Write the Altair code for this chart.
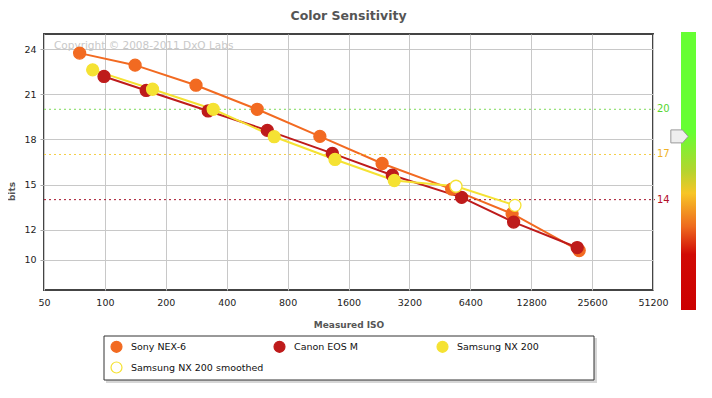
import altair as alt
import pandas as pd

# ---------------- data ----------------
sony_iso = [75, 141, 282, 566, 1155, 2345, 5177, 10300, 22100]
sony_bits = [23.73, 22.93, 21.6, 20.0, 18.2, 16.4, 14.7, 13.07, 10.62]

canon_iso = [99, 160, 324, 635, 1331, 2635, 5800, 10480, 21600]
canon_bits = [22.18, 21.25, 19.89, 18.6, 17.07, 15.62, 14.15, 12.51, 10.82]

nx200_iso = [87, 172, 343, 687, 1372, 2695]
nx200_bits = [22.62, 21.33, 20.0, 18.18, 16.67, 15.27]

smoothed_iso = [5440, 10640]
smoothed_bits = [14.89, 13.62]

series_names = ["Sony NEX-6", "Canon EOS M", "Samsung NX 200", "Samsung NX 200 smoothed"]
fill_colors = ["#F26A21", "#BE1B1B", "#F5E233", "#FFFFFF"]
stroke_colors = ["#F26A21", "#BE1B1B", "#F5E233", "#F5E233"]

x_ticks = [50, 100, 200, 400, 800, 1600, 3200, 6400, 12800, 25600, 51200]
y_ticks = [10, 12, 15, 18, 21, 24]

thresholds = [20, 17, 14]
threshold_line_colors = ["#7FD95A", "#F5CF45", "#A3122A"]
threshold_text_colors = ["#55D62E", "#F0B224", "#B3102A"]

marker_value = [18.2]
watermark = ["Copyright © 2008-2011 DxO Labs"]

# ---------------- scales / axes ----------------
x_scale = alt.Scale(type="log", base=2, domain=[50, 51200], nice=False)
y_scale = alt.Scale(domain=[8, 25], nice=False, zero=False)

FONT = "DejaVu Sans"

x_axis = alt.Axis(values=x_ticks, format="d", title="Measured ISO", grid=True,
                  gridColor="#c8c8c8", ticks=False, domain=False, labelFont=FONT,
                  labelFontSize=9.5, labelColor="#222", labelPadding=7,
                  labelFlush=False, labelOverlap=False,
                  titleFont=FONT, titleFontSize=9, titleFontWeight="bold",
                  titleColor="#555", titleY=34, titleBaseline="middle")
y_axis = alt.Axis(values=y_ticks, title="bits", grid=True, gridColor="#c8c8c8",
                  ticks=True, tickSize=4, tickColor="#aaa", domain=False,
                  labelFont=FONT, labelFontSize=9.5, labelColor="#222", labelPadding=4,
                  labelFlush=False,
                  titleFont=FONT, titleFontSize=9, titleFontWeight="bold",
                  titleColor="#555", titleAngle=-90, titleX=-33, titleY=157,
                  titleAlign="center", titleBaseline="middle")

legend = alt.Legend(title=None, orient="none", legendX=60, legendY=300, columns=3,
                    direction="horizontal",
                    gridAlign="all", columnPadding=7, rowPadding=4, padding=6,
                    symbolSize=120, symbolStrokeWidth=1.2, labelFont=FONT,
                    labelFontSize=9.5, labelColor="#111", labelOffset=8,
                    symbolType="circle")

fill_scale = alt.Scale(domain=series_names, range=fill_colors)
stroke_scale = alt.Scale(domain=series_names, range=stroke_colors)


def df(iso, bits, name):
    return pd.DataFrame({"iso": iso, "bits": bits, "series": name})


sony_df = df(sony_iso, sony_bits, series_names[0])
canon_df = df(canon_iso, canon_bits, series_names[1])
nx_df = df(nx200_iso, nx200_bits, series_names[2])
sm_df = df(smoothed_iso, smoothed_bits, series_names[3])
nx_line_df = pd.concat([nx_df, sm_df])
all_points = pd.concat([sony_df, canon_df, nx_df, sm_df]).reset_index(drop=True)
all_points["order"] = range(len(all_points))

X = alt.X("iso:Q", scale=x_scale, axis=x_axis)
Y = alt.Y("bits:Q", scale=y_scale, axis=y_axis)


def line(d, color):
    return alt.Chart(d).mark_line(color=color, strokeWidth=2).encode(x=X, y=Y)


pts = alt.Chart(all_points).mark_point(filled=True, size=144, opacity=1,
                                       strokeWidth=1.3).encode(
    x=X, y=Y,
    fill=alt.Fill("series:N", scale=fill_scale, legend=legend),
    stroke=alt.Stroke("series:N", scale=stroke_scale, legend=legend),
    order=alt.Order("order:Q"),
)

thr_df = pd.DataFrame({"v": thresholds, "lc": threshold_line_colors,
                       "tc": threshold_text_colors, "t": [str(t) for t in thresholds]})

thr_rules = alt.Chart(thr_df).mark_rule(strokeDash=[2, 3], strokeWidth=1).encode(
    y=alt.Y("v:Q", scale=y_scale, axis=y_axis),
    x=alt.value(0), x2=alt.value(611),
    color=alt.Color("lc:N", scale=None),
)
thr_text = alt.Chart(thr_df).mark_text(align="left", baseline="middle", font=FONT,
                                       fontSize=10).encode(
    y=alt.Y("v:Q", scale=y_scale, axis=y_axis),
    x=alt.value(613),
    text="t:N",
    color=alt.Color("tc:N", scale=None),
)

wm = alt.Chart(pd.DataFrame({"t": watermark})).mark_text(
    align="left", baseline="middle", font=FONT, fontSize=10.5, color="#c9c9c9"
).encode(x=alt.value(10), y=alt.value(12), text="t:N")

gradient = alt.LinearGradient(
    gradient="linear", x1=0, x2=0, y1=0, y2=1,
    stops=[
        alt.GradientStop(color="#66FF33", offset=0),
        alt.GradientStop(color="#66FF33", offset=0.36),
        alt.GradientStop(color="#B5D42E", offset=0.5),
        alt.GradientStop(color="#F7C526", offset=0.58),
        alt.GradientStop(color="#EE6A1E", offset=0.7),
        alt.GradientStop(color="#D10A05", offset=0.8),
        alt.GradientStop(color="#CC0000", offset=1),
    ],
)
one = pd.DataFrame({"a": [0]})
bar = alt.Chart(one).mark_rect(fill=gradient).encode(
    x=alt.value(637), x2=alt.value(652), y=alt.value(-2), y2=alt.value(276)
)
marker = alt.Chart(pd.DataFrame({"v": marker_value})).mark_point(
    shape="M-1,-0.75L0.35,-0.75L1,0L0.35,0.75L-1,0.75Z", filled=True, size=300,
    fill="#eeeeee", stroke="#9a9a9a", strokeWidth=1, opacity=1
).encode(y=alt.Y("v:Q", scale=y_scale, axis=y_axis), x=alt.value(635.5))

# legend frame (box + soft shadow)
legend_shadow = alt.Chart(one).mark_rect(fill="#bbbbbb", opacity=0.6).encode(
    x=alt.value(62), x2=alt.value(553), y=alt.value(304), y2=alt.value(349)
)
legend_box = alt.Chart(one).mark_rect(fill="#ffffff", stroke="#333333",
                                      strokeWidth=1).encode(
    x=alt.value(60), x2=alt.value(550), y=alt.value(302), y2=alt.value(346)
)

chart = alt.layer(
    line(sony_df, fill_colors[0]),
    wm, thr_rules, thr_text, bar, marker,
    line(canon_df, fill_colors[1]),
    line(nx_line_df, fill_colors[2]),
    legend_shadow, legend_box,
    pts,
).properties(
    width=609, height=256,
    title=alt.TitleParams("Color Sensitivity", font=FONT, fontSize=12.5,
                          fontWeight="bold", color="#555", anchor="middle", offset=10),
    autosize=alt.AutoSizeParams(type="none"),
    padding={"left": 36, "top": 26, "right": 51, "bottom": 100},
).configure(background="white").configure_view(stroke="#444", strokeWidth=2)

chart.save("out.html", embed_options={"renderer": "svg", "actions": False})
